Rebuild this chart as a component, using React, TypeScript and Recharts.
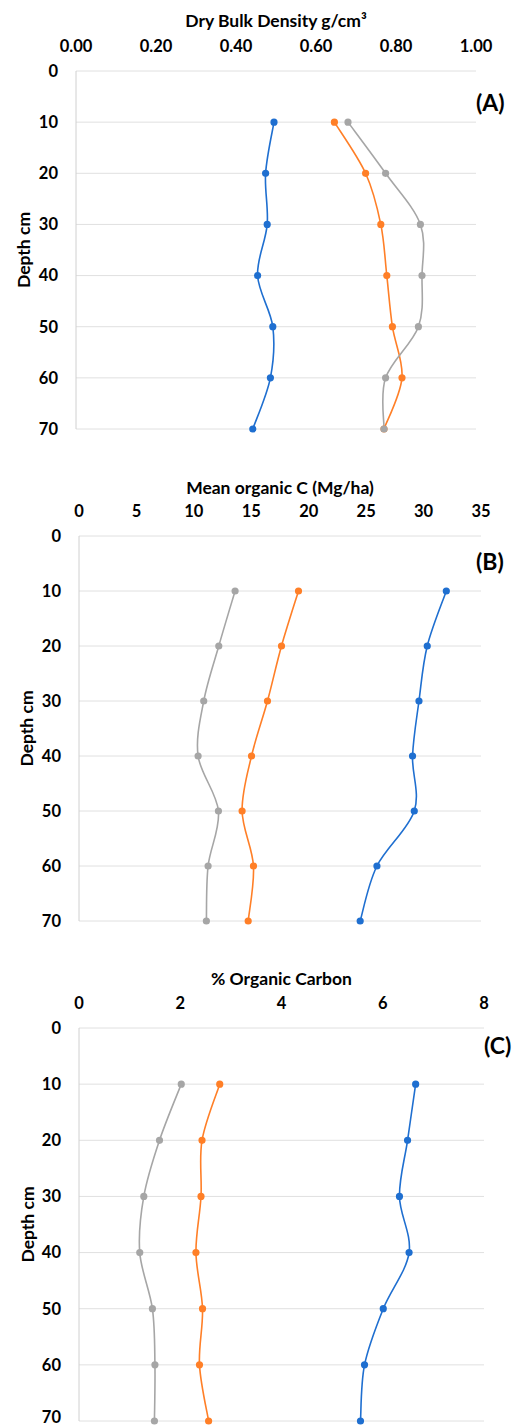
import { LineChart, Line, XAxis, YAxis, CartesianGrid } from 'recharts';

const depths = [10, 20, 30, 40, 50, 60, 70];
const depthTicks = [0, 10, 20, 30, 40, 50, 60, 70];

// (A) dry bulk density g/cm3
const bulkBlue = [0.495, 0.474, 0.478, 0.454, 0.492, 0.486, 0.442];
const bulkOrange = [0.646, 0.724, 0.762, 0.777, 0.791, 0.815, 0.77];
const bulkGray = [0.68, 0.774, 0.861, 0.865, 0.856, 0.774, 0.77];
const bulkTicks = [0, 0.2, 0.4, 0.6, 0.8, 1];

// (B) mean organic C Mg/ha
const carbonBlue = [31.98, 30.32, 29.6, 29.04, 29.19, 25.94, 24.48];
const carbonOrange = [19.11, 17.63, 16.41, 15.02, 14.2, 15.19, 14.73];
const carbonGray = [13.59, 12.17, 10.86, 10.37, 12.14, 11.24, 11.09];
const carbonTicks = [0, 5, 10, 15, 20, 25, 30, 35];

// (C) % organic carbon
const pctBlue = [6.65, 6.49, 6.33, 6.52, 6.01, 5.64, 5.56];
const pctOrange = [2.78, 2.43, 2.41, 2.31, 2.44, 2.38, 2.56];
const pctGray = [2.02, 1.59, 1.28, 1.2, 1.45, 1.5, 1.49];
const pctTicks = [0, 2, 4, 6, 8];

const COLORS = {
  blue: '#1f6fd0',
  orange: '#ff7f27',
  gray: '#a6a6a6',
};

// excel-like smoothed line (catmull-rom through the points)
function smoothCurve(context: any) {
  let pts: [number, number][] = [];
  return {
    areaStart() {},
    areaEnd() {},
    lineStart() {
      pts = [];
    },
    lineEnd() {
      if (!pts.length) return;
      context.moveTo(pts[0][0], pts[0][1]);
      for (let i = 0; i < pts.length - 1; i++) {
        const p0 = pts[i - 1] || pts[i];
        const p1 = pts[i];
        const p2 = pts[i + 1];
        const p3 = pts[i + 2] || p2;
        context.bezierCurveTo(
          p1[0] + (p2[0] - p0[0]) / 6,
          p1[1] + (p2[1] - p0[1]) / 6,
          p2[0] - (p3[0] - p1[0]) / 6,
          p2[1] - (p3[1] - p1[1]) / 6,
          p2[0],
          p2[1]
        );
      }
    },
    point(x: number, y: number) {
      pts.push([+x, +y]);
    },
  };
}

const rows = (blue: number[], orange: number[], gray: number[]) =>
  depths.map((depth, i) => ({ depth, blue: blue[i], orange: orange[i], gray: gray[i] }));

interface PanelProps {
  title: string;
  tag: string;
  blue: number[];
  orange: number[];
  gray: number[];
  ticks: number[];
  decimals: number;
  top: number;
  height: number;
  margin: { top: number; right: number; bottom: number; left: number };
  yWidth: number;
  titleOffset: number;
  labelOffset: number;
  tagPos: { x: number; y: number };
}

function Panel(p: PanelProps) {
  const data = rows(p.blue, p.orange, p.gray);
  const max = p.ticks[p.ticks.length - 1];
  return (
    <div style={{ position: 'absolute', left: 0, top: p.top, width: 516, height: p.height }}>
      <LineChart width={516} height={p.height} data={data} layout="vertical" margin={p.margin}>
        <CartesianGrid vertical={false} stroke="#e0e0e0" strokeWidth={1} />
        <XAxis
          type="number"
          orientation="top"
          domain={[0, max]}
          ticks={p.ticks}
          height={30}
          axisLine={false}
          tickLine={false}
          tickSize={0}
          tickMargin={19}
          tickFormatter={(v: number) => v.toFixed(p.decimals)}
          tick={{ fill: '#000', fontSize: 16.5, fontWeight: 700 }}
          label={{
            value: p.title,
            position: 'top',
            offset: p.titleOffset,
            style: { fill: '#000', fontSize: 17.5, fontWeight: 700 },
          }}
        />
        <YAxis
          type="number"
          dataKey="depth"
          domain={[0, 70]}
          ticks={depthTicks}
          width={p.yWidth}
          axisLine={{ stroke: '#d0d0d0' }}
          tickLine={false}
          tickSize={0}
          tickMargin={18}
          tick={{ fill: '#000', fontSize: 16.5, fontWeight: 700 }}
          label={{
            value: 'Depth cm',
            angle: -90,
            position: 'insideLeft',
            offset: p.labelOffset,
            style: { textAnchor: 'middle', fill: '#000', fontSize: 17.5, fontWeight: 700 },
          }}
        />
        <Line dataKey="blue" type={smoothCurve as any} stroke={COLORS.blue} strokeWidth={1.6}
          dot={{ r: 2.8, fill: COLORS.blue, stroke: COLORS.blue }} isAnimationActive={false} />
        <Line dataKey="orange" type={smoothCurve as any} stroke={COLORS.orange} strokeWidth={1.6}
          dot={{ r: 2.8, fill: COLORS.orange, stroke: COLORS.orange }} isAnimationActive={false} />
        <Line dataKey="gray" type={smoothCurve as any} stroke={COLORS.gray} strokeWidth={1.6}
          dot={{ r: 2.8, fill: COLORS.gray, stroke: COLORS.gray }} isAnimationActive={false} />
      </LineChart>
      <div
        style={{
          position: 'absolute',
          left: p.tagPos.x,
          top: p.tagPos.y,
          fontSize: 23,
          fontWeight: 700,
          color: '#000',
          lineHeight: 1,
        }}
      >
        {p.tag}
      </div>
    </div>
  );
}

export default function App() {
  return (
    <div
      style={{
        position: 'absolute',
        left: 0,
        top: 0,
        width: 516,
        height: 1427,
        background: '#fff',
        fontFamily: 'Lato, "Open Sans", sans-serif',
        overflow: 'hidden',
      }}
    >
      <Panel
        title="Dry Bulk Density g/cm³"
        tag="(A)"
        blue={bulkBlue}
        orange={bulkOrange}
        gray={bulkGray}
        ticks={bulkTicks}
        decimals={2}
        top={0}
        height={440}
        margin={{ top: 41, right: 40, bottom: 11, left: 0 }}
        yWidth={76}
        titleOffset={14}
        labelOffset={24}
        tagPos={{ x: 476, y: 91 }}
      />
      <Panel
        title="Mean organic C (Mg/ha)"
        tag="(B)"
        blue={carbonBlue}
        orange={carbonOrange}
        gray={carbonGray}
        ticks={carbonTicks}
        decimals={0}
        top={460}
        height={475}
        margin={{ top: 46, right: 35, bottom: 14, left: 0 }}
        yWidth={79}
        titleOffset={12}
        labelOffset={27}
        tagPos={{ x: 476, y: 90 }}
      />
      <Panel
        title="% Organic Carbon"
        tag="(C)"
        blue={pctBlue}
        orange={pctOrange}
        gray={pctGray}
        ticks={pctTicks}
        decimals={0}
        top={950}
        height={477}
        margin={{ top: 48, right: 32, bottom: 6, left: 0 }}
        yWidth={79}
        titleOffset={13}
        labelOffset={28}
        tagPos={{ x: 484, y: 84 }}
      />
    </div>
  );
}
